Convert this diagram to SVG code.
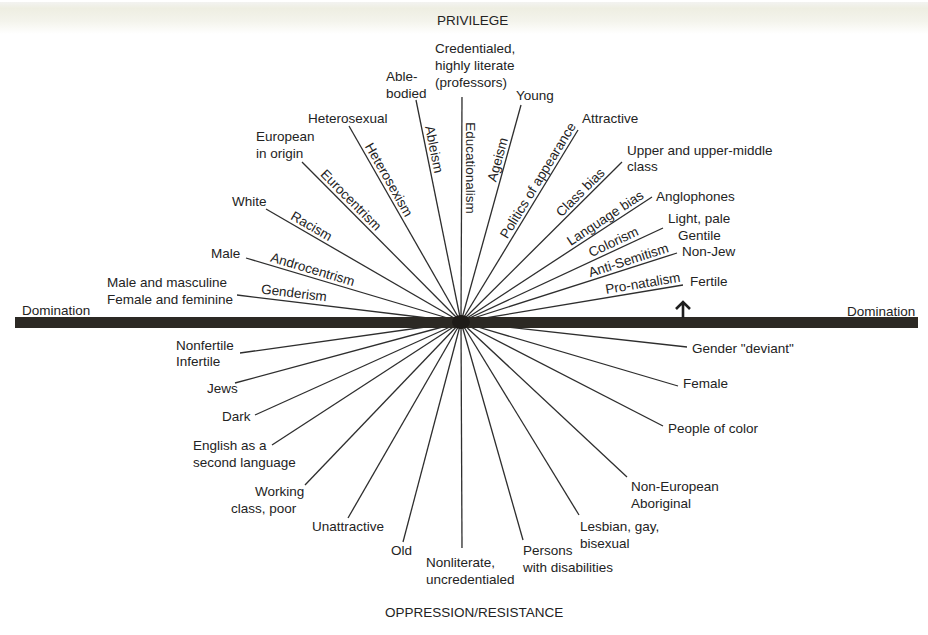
<svg xmlns="http://www.w3.org/2000/svg" width="928" height="635" viewBox="0 0 928 635">
<defs>
<style>
.t{font-family:"Liberation Sans",Arial,Helvetica,sans-serif;font-size:13.5px;fill:#232323}
.r{text-anchor:middle}
.ln{stroke:#2e2e2e;stroke-width:1.3;fill:none}
</style>
<linearGradient id="band" x1="0" y1="0" x2="0" y2="1">
<stop offset="0" stop-color="#f3f3f1"/>
<stop offset="0.2" stop-color="#eeeee2"/>
<stop offset="0.6" stop-color="#f4f4ec"/>
<stop offset="1" stop-color="#ffffff"/>
</linearGradient>
</defs>
<rect x="0" y="0" width="928" height="635" fill="#ffffff"/>
<rect x="0" y="2" width="928" height="32" fill="url(#band)"/>

<g id="connectors">
<line class="ln" x1="461" y1="322" x2="237" y2="295"/>
<line class="ln" x1="461" y1="322" x2="246" y2="258"/>
<line class="ln" x1="461" y1="322" x2="266" y2="209"/>
<line class="ln" x1="461" y1="322" x2="302" y2="162"/>
<line class="ln" x1="461" y1="322" x2="349" y2="126"/>
<line class="ln" x1="461" y1="322" x2="416" y2="100"/>
<line class="ln" x1="461" y1="322" x2="462" y2="97"/>
<line class="ln" x1="461" y1="322" x2="521" y2="105"/>
<line class="ln" x1="461" y1="322" x2="578" y2="130"/>
<line class="ln" x1="461" y1="322" x2="622" y2="162"/>
<line class="ln" x1="461" y1="322" x2="652" y2="197"/>
<line class="ln" x1="461" y1="322" x2="663" y2="228"/>
<line class="ln" x1="461" y1="322" x2="677" y2="253"/>
<line class="ln" x1="461" y1="322" x2="683" y2="285"/>
<line class="ln" x1="461" y1="322" x2="687" y2="347"/>
<line class="ln" x1="461" y1="322" x2="678" y2="386"/>
<line class="ln" x1="461" y1="322" x2="663" y2="426"/>
<line class="ln" x1="461" y1="322" x2="627" y2="477"/>
<line class="ln" x1="461" y1="322" x2="579" y2="515"/>
<line class="ln" x1="461" y1="322" x2="523" y2="540"/>
<line class="ln" x1="461" y1="322" x2="462" y2="548"/>
<line class="ln" x1="461" y1="322" x2="403" y2="542"/>
<line class="ln" x1="461" y1="322" x2="348" y2="518"/>
<line class="ln" x1="461" y1="322" x2="305" y2="485"/>
<line class="ln" x1="461" y1="322" x2="272" y2="445"/>
<line class="ln" x1="461" y1="322" x2="255" y2="415"/>
<line class="ln" x1="461" y1="322" x2="235" y2="383"/>
<line class="ln" x1="461" y1="322" x2="240" y2="353"/>
</g>

<g id="axis">
<rect x="15" y="317" width="903" height="11" fill="#2c2924"/>
<ellipse cx="461" cy="322" rx="9" ry="7" fill="#1e1b18"/>
<path d="M683 318 V303 M676 309 L683 302 L690 309" stroke="#1e1e1e" stroke-width="2.6" fill="none"/>
</g>

<g id="privilege"><text class="t" x="437" y="25">PRIVILEGE</text></g>
<g id="oppression"><text class="t" x="385" y="617">OPPRESSION/RESISTANCE</text></g>
<g id="domination-left"><text class="t" x="22" y="315">Domination</text></g>
<g id="domination-right"><text class="t" x="847" y="316">Domination</text></g>

<g id="credentialed"><text class="t" x="435" y="53">Credentialed,</text><text class="t" x="435" y="70">highly literate</text><text class="t" x="435" y="87">(professors)</text></g>
<g id="able-bodied"><text class="t" x="386" y="81">Able-</text><text class="t" x="386" y="98">bodied</text></g>
<g id="heterosexual"><text class="t" x="308" y="123">Heterosexual</text></g>
<g id="european"><text class="t" x="256" y="141">European</text><text class="t" x="256" y="158">in origin</text></g>
<g id="white"><text class="t" x="232" y="206">White</text></g>
<g id="male"><text class="t" x="211" y="258">Male</text></g>
<g id="male-masculine"><text class="t" x="107" y="287">Male and masculine</text><text class="t" x="107" y="304">Female and feminine</text></g>

<g id="young"><text class="t" x="516" y="100">Young</text></g>
<g id="attractive"><text class="t" x="582" y="123">Attractive</text></g>
<g id="upper-class"><text class="t" x="627" y="155">Upper and upper-middle</text><text class="t" x="627" y="171">class</text></g>
<g id="anglophones"><text class="t" x="656" y="201">Anglophones</text></g>
<g id="light-pale"><text class="t" x="668" y="223">Light, pale</text></g>
<g id="gentile"><text class="t" x="678" y="240">Gentile</text></g>
<g id="non-jew"><text class="t" x="682" y="256">Non-Jew</text></g>
<g id="fertile"><text class="t" x="690" y="286">Fertile</text></g>

<g id="gender-deviant"><text class="t" x="692" y="353">Gender "deviant"</text></g>
<g id="female"><text class="t" x="683" y="388">Female</text></g>
<g id="people-of-color"><text class="t" x="668" y="433">People of color</text></g>
<g id="non-european"><text class="t" x="631" y="491">Non-European</text><text class="t" x="631" y="508">Aboriginal</text></g>
<g id="lgb"><text class="t" x="580" y="531">Lesbian, gay,</text><text class="t" x="580" y="548">bisexual</text></g>
<g id="disabilities"><text class="t" x="523" y="555">Persons</text><text class="t" x="523" y="572">with disabilities</text></g>
<g id="nonliterate"><text class="t" x="426" y="567">Nonliterate,</text><text class="t" x="426" y="584">uncredentialed</text></g>
<g id="old"><text class="t" x="391" y="555">Old</text></g>
<g id="unattractive"><text class="t" x="312" y="531">Unattractive</text></g>
<g id="working-class"><text class="t" x="255" y="496">Working</text><text class="t" x="231" y="513">class, poor</text></g>
<g id="esl"><text class="t" x="193" y="450">English as a</text><text class="t" x="193" y="467">second language</text></g>
<g id="dark"><text class="t" x="222" y="421">Dark</text></g>
<g id="jews"><text class="t" x="207" y="393">Jews</text></g>
<g id="nonfertile"><text class="t" x="176" y="350">Nonfertile</text><text class="t" x="176" y="366">Infertile</text></g>

<g id="isms">
<text class="t r" transform="translate(429.7,150.2) rotate(78.5)">Ableism</text>
<text class="t r" transform="translate(465.5,168) rotate(90)">Educationalism</text>
<text class="t r" transform="translate(385,182) rotate(60.3)">Heterosexism</text>
<text class="t r" transform="translate(347.8,203.2) rotate(45.2)">Eurocentrism</text>
<text class="t r" transform="translate(309.3,230.1) rotate(30.1)">Racism</text>
<text class="t r" transform="translate(311.4,273.8) rotate(16.6)">Androcentrism</text>
<text class="t r" transform="translate(293.5,297.5) rotate(6.9)">Genderism</text>
<text class="t r" transform="translate(502,160.8) rotate(-74.5)">Ageism</text>
<text class="t r" transform="translate(541.8,182.8) rotate(-58.6)">Politics of appearance</text>
<text class="t r" transform="translate(583.5,195.6) rotate(-44.8)">Class bias</text>
<text class="t r" transform="translate(607.7,221.8) rotate(-33.2)">Language bias</text>
<text class="t r" transform="translate(615.4,246) rotate(-25)">Colorism</text>
<text class="t r" transform="translate(629.8,264.5) rotate(-17.7)">Anti-Semitism</text>
<text class="t r" transform="translate(643.6,287.8) rotate(-9.5)">Pro-natalism</text>
</g>
</svg>
